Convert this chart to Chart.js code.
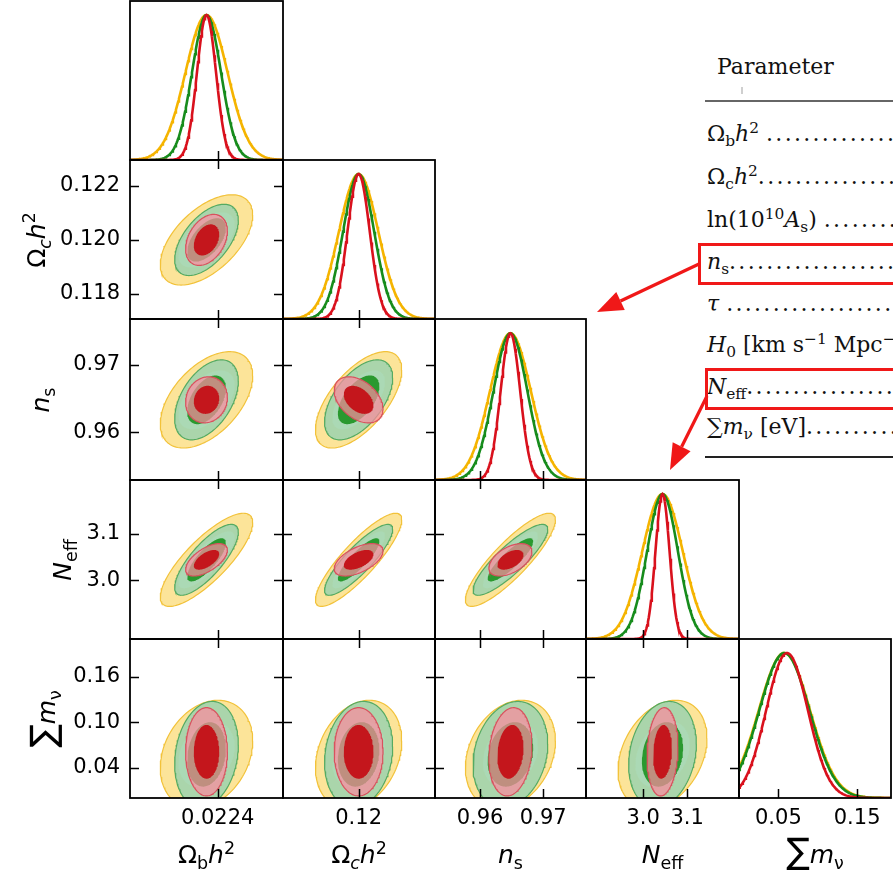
<!DOCTYPE html>
<html>
<head>
<meta charset="utf-8">
<script src="https://cdn.jsdelivr.net/npm/chart.js@4.4.1/dist/chart.umd.min.js"></script>
<style>
  html, body { margin: 0; padding: 0; background: #fff; }
  body { width: 893px; height: 876px; overflow: hidden; position: relative; }
  canvas { position: absolute; }
  .ttl { position: absolute; font-family: 'DejaVu Sans'; font-size: 25px; line-height: 25px; color: #000; white-space: nowrap; }
  .ttl i { font-style: oblique; }
  .ttl sub, .ttl sup { font-size: 70%; line-height: 0; }
  .ttl .big { font-size: 140%; line-height: 0; }
  .tab { position: absolute; font-family: 'DejaVu Serif'; font-size: 22px; line-height: 22px; color: #111; white-space: nowrap; }
  .tab sub, .tab sup { font-size: 70%; line-height: 0; }
  .tab .dots { letter-spacing: 2.3px; }
  .rule { position: absolute; left: 705px; width: 200px; }
</style>
</head>
<body>
<script>
// ---- data ----
// parameters (columns / rows of the triangle)
const paramLabels = [
  'Ω<sub>b</sub><i>h</i><sup>2</sup>',
  'Ω<sub><i>c</i></sub><i>h</i><sup>2</sup>',
  '<i>n</i><sub>s</sub>',
  '<i>N</i><sub>eff</sub>',
  '<span class="big">∑</span><i>m</i><sub>ν</sub>'
];
const xRange = [[0.02177, 0.02287], [0.11707, 0.12296], [0.95286, 0.97677], [2.870, 3.218], [0.0, 0.193]];
const yRange = [[0.02177, 0.02287], [0.11707, 0.12296], [0.95294, 0.97676], [2.872, 3.2174], [0.0, 0.21]];
const xTickVals = [[0.0224], [0.12], [0.96, 0.97], [3.0, 3.1], [0.05, 0.15]];
const xTickText = [['0.0224'], ['0.12'], ['0.96', '0.97'], ['3.0', '3.1'], ['0.05', '0.15']];
const yTickVals = [[], [0.118, 0.120, 0.122], [0.96, 0.97], [3.0, 3.1], [0.04, 0.10, 0.16]];
const yTickText = [[], ['0.118', '0.120', '0.122'], ['0.96', '0.97'], ['3.0', '3.1'], ['0.04', '0.10', '0.16']];

// three runs: yellow (widest), green, red (tightest)
const meanYellow = [0.02232, 0.1200, 0.9648, 3.044, 0.0576];
const meanGreen  = [0.02232, 0.1200, 0.9648, 3.044, 0.0576];
const meanRed    = [0.02232, 0.1200, 0.9648, 3.044, 0.0610];
const sigmaYellow = [0.000151, 0.00076, 0.00324, 0.046, 0.0325];
const sigmaGreen  = [0.000104, 0.00060, 0.00269, 0.035, 0.0318];
const sigmaRed    = [0.0000683, 0.00043, 0.00155, 0.016, 0.0265];
// correlations for pairs (1,0) (2,0) (2,1) (3,0) (3,1) (3,2) (4,0) (4,1) (4,2) (4,3)
const corrYellow = [0.55, 0.50, 0.62, 0.80, 0.86, 0.86, 0.25, 0.25, 0.25, 0.30];
const corrGreen  = [0.55, 0.47, 0.55, 0.78, 0.86, 0.86, 0.18, 0.15, 0.20, 0.20];
const corrRed    = [0.35, 0.10, -0.40, 0.60, 0.55, 0.50, 0.00, 0.00, 0.15, 0.12];
const contourSigma = [1.34, 2.2]; // inner (68%) and outer (95%) contour radius

// table text
const tableHead = 'Parameter';
const tableRows = [
  'Ω<sub>b</sub><i>h</i><sup>2</sup> ',
  'Ω<sub>c</sub><i>h</i><sup>2</sup>',
  'ln(10<sup>10</sup><i>A</i><sub>s</sub>) ',
  '<i>n</i><sub>s</sub>',
  '<i>τ</i> ',
  '<i>H</i><sub>0</sub> [km s<sup>−1</sup> Mpc<sup>−1</sup>]',
  '<i>N</i><sub>eff</sub>',
  '∑<i>m</i><sub>ν</sub> [eV]'
];

// ---- styling ----
const means = [meanYellow, meanGreen, meanRed];
const sigmas = [sigmaYellow, sigmaGreen, sigmaRed];
const corrs = [corrYellow, corrGreen, corrRed];
const lineColors = ['#f5b400', '#178c1c', '#d9111d'];
const fillOuter = ['rgba(250,205,70,0.55)', 'rgba(135,208,180,0.7)', 'rgba(250,140,160,0.72)'];
const fillInner = ['rgba(255,255,235,0.4)', 'rgba(35,150,40,0.95)', '#c4161c'];
const edgeOuter = ['#f2c23a', '#55aa62', '#d8525e'];

const X_EDGES = [130, 283, 435, 586, 739, 891];
const Y_EDGES = [1, 160, 319, 480, 639, 798];
const PAD = 12;
const tickFont = { family: 'DejaVu Sans', size: 21 };

const framePlugin = {
  id: 'frame',
  afterDraw(chart, args, opts) {
    const { ctx, chartArea: a } = chart;
    const xs = chart.scales.x, ys = chart.scales.y;
    const L = 9;
    ctx.save();
    ctx.strokeStyle = '#000';
    ctx.lineWidth = 1.5;
    ctx.beginPath();
    opts.xTicks.forEach(v => {
      const p = Math.round(xs.getPixelForValue(v)) + 0.5;
      ctx.moveTo(p, a.bottom); ctx.lineTo(p, a.bottom - L);
      if (opts.all) { ctx.moveTo(p, a.top); ctx.lineTo(p, a.top + L); }
    });
    if (opts.all) {
      opts.yTicks.forEach(v => {
        const p = Math.round(ys.getPixelForValue(v)) + 0.5;
        ctx.moveTo(a.left, p); ctx.lineTo(a.left + L, p);
        ctx.moveTo(a.right, p); ctx.lineTo(a.right - L, p);
      });
    }
    ctx.stroke();
    ctx.lineWidth = 1.8;
    ctx.strokeRect(a.left, a.top, a.right - a.left, a.bottom - a.top);
    ctx.restore();
  }
};

function gaussCurve(mu, sd, lo, hi) {
  const pts = [];
  for (let s = 0; s <= 200; s++) {
    const x = lo + (hi - lo) * s / 200;
    pts.push({ x, y: Math.exp(-0.5 * ((x - mu) / sd) ** 2) });
  }
  return pts;
}

function ellipse(mx, my, sx, sy, r, k) {
  const pts = [];
  const q = Math.sqrt(1 - r * r);
  for (let s = 0; s <= 140; s++) {
    const t = 2 * Math.PI * s / 140;
    const c = Math.cos(t), n = Math.sin(t);
    pts.push({ x: mx + k * sx * c, y: my + k * sy * (r * c + q * n) });
  }
  return pts;
}

function makePanel(i, j) {
  const diag = i === j;
  const showY = j === 0 && !diag;
  const showX = i === 4;
  const cl = showY ? 0 : X_EDGES[j] - PAD;
  const cr = X_EDGES[j + 1] + PAD;
  const ct = Math.max(0, Y_EDGES[i] - PAD);
  const cb = showX ? 876 : Y_EDGES[i + 1] + PAD;
  const cv = document.createElement('canvas');
  cv.width = cr - cl; cv.height = cb - ct;
  cv.style.left = cl + 'px'; cv.style.top = ct + 'px';
  cv.style.width = (cr - cl) + 'px'; cv.style.height = (cb - ct) + 'px';
  document.body.appendChild(cv);

  const datasets = [];
  if (diag) {
    [0, 1, 2].forEach(d => {
      datasets.push({
        data: gaussCurve(means[d][j], sigmas[d][j], xRange[j][0], xRange[j][1]),
        borderColor: lineColors[d], borderWidth: 2.6, fill: false, order: 3 - d
      });
    });
  } else {
    const pi = i * (i - 1) / 2 + j;
    let layer = 0;
    [0, 1, 2].forEach(d => {
      [1, 0].forEach(lv => {
        const outer = lv === 1;
        datasets.push({
          data: ellipse(means[d][j], means[d][i], sigmas[d][j], sigmas[d][i], corrs[d][pi], contourSigma[lv]),
          backgroundColor: outer ? fillOuter[d] : fillInner[d],
          borderColor: outer ? edgeOuter[d] : 'rgba(0,0,0,0)',
          borderWidth: outer ? 1.2 : 0.5,
          fill: 'shape', clip: 0, order: 10 - layer
        });
        layer++;
      });
    });
  }

  new Chart(cv, {
    type: 'line',
    data: { datasets },
    options: {
      responsive: false, animation: false, events: [],
      layout: { padding: {
        left: showY ? 0 : X_EDGES[j] - cl,
        right: cr - X_EDGES[j + 1],
        top: Y_EDGES[i] - ct,
        bottom: showX ? 0 : cb - Y_EDGES[i + 1]
      } },
      elements: { point: { radius: 0 }, line: { tension: 0 } },
      plugins: {
        legend: { display: false }, tooltip: { enabled: false },
        frame: { xTicks: xTickVals[j], yTicks: yTickVals[i], all: !diag }
      },
      scales: {
        x: {
          type: 'linear', min: xRange[j][0], max: xRange[j][1], display: showX,
          grid: { display: false, drawTicks: false }, border: { display: false },
          afterBuildTicks: s => { s.ticks = xTickVals[j].map(v => ({ value: v })); },
          afterFit: s => {
            if (!showX) return;
            s.height = 876 - Y_EDGES[5]; s.paddingLeft = 0; s.paddingRight = 0;
          },
          ticks: { autoSkip: false, maxRotation: 0, padding: 8, color: '#000', font: tickFont,
                   callback: (v, k) => xTickText[j][k] }
        },
        y: {
          type: 'linear',
          min: diag ? 0 : yRange[i][0], max: diag ? 1.097 : yRange[i][1], display: showY,
          grid: { display: false, drawTicks: false }, border: { display: false },
          afterBuildTicks: s => { s.ticks = (diag ? [] : yTickVals[i]).map(v => ({ value: v })); },
          afterFit: s => {
            if (!showY) return;
            s.width = X_EDGES[0]; s.paddingTop = 0; s.paddingBottom = 0;
          },
          ticks: { autoSkip: false, padding: 10, color: '#000', font: tickFont,
                   callback: (v, k) => yTickText[i][k] }
        }
      }
    },
    plugins: [framePlugin]
  });
}

for (let i = 0; i < 5; i++) for (let j = 0; j <= i; j++) makePanel(i, j);

// ---- axis titles ----
function addDiv(cls, html, css) {
  const d = document.createElement('div');
  d.className = cls; d.innerHTML = html;
  Object.assign(d.style, css);
  document.body.appendChild(d);
  return d;
}
[0, 1, 2, 3, 4].forEach(j => {
  const cx = (X_EDGES[j] + X_EDGES[j + 1]) / 2;
  addDiv('ttl', paramLabels[j], { left: cx + 'px', top: '842px', transform: 'translateX(-50%)' });
});
const yTitleX = [0, 36, 40, 62, 46];
[1, 2, 3, 4].forEach(i => {
  const cy = (Y_EDGES[i] + Y_EDGES[i + 1]) / 2;
  addDiv('ttl', paramLabels[i], { left: yTitleX[i] + 'px', top: cy + 'px', transform: 'translate(-50%,-50%) rotate(-90deg)' });
});

// ---- table overlay ----
addDiv('tab', tableHead, { left: '717px', top: (75 - 18.6) + 'px' });
addDiv('rule', '', { top: '100px', height: '1.5px', background: '#666' });
addDiv('rule', '', { top: '456px', height: '2px', background: '#222' });
addDiv('rule', '', { left: '741px', width: '2px', top: '87px', height: '7px', background: '#cfcfcf' });
const rowBase = [142, 185, 228, 270, 312, 353, 395, 435];
tableRows.forEach((h, k) => {
  addDiv('tab', h + '<span class="dots">' + '.'.repeat(40) + '</span>', { left: '707px', top: (rowBase[k] - 18.6) + 'px' });
});

// ---- red highlight boxes and arrows ----
const RED = '#f01818';
const boxes = [[699.5, 244.5, 39], [706.5, 369.5, 39]];
const arrows = [[[699, 264], [597, 312]], [[707, 396], [670, 470]]];
let svg = '<svg width="893" height="876" style="position:absolute;left:0;top:0">';
boxes.forEach(b => {
  svg += `<rect x="${b[0]}" y="${b[1]}" width="300" height="${b[2]}" fill="none" stroke="${RED}" stroke-width="3"/>`;
});
arrows.forEach(([s, t]) => {
  const dx = t[0] - s[0], dy = t[1] - s[1], len = Math.hypot(dx, dy);
  const ux = dx / len, uy = dy / len, hl = 26, hw = 10;
  const bx = t[0] - hl * ux, by = t[1] - hl * uy;
  svg += `<line x1="${s[0]}" y1="${s[1]}" x2="${bx}" y2="${by}" stroke="${RED}" stroke-width="3.2"/>`;
  svg += `<polygon points="${t[0]},${t[1]} ${bx + hw * uy},${by - hw * ux} ${bx - hw * uy},${by + hw * ux}" fill="${RED}"/>`;
});
svg += '</svg>';
document.body.insertAdjacentHTML('beforeend', svg);
</script>
</body>
</html>
